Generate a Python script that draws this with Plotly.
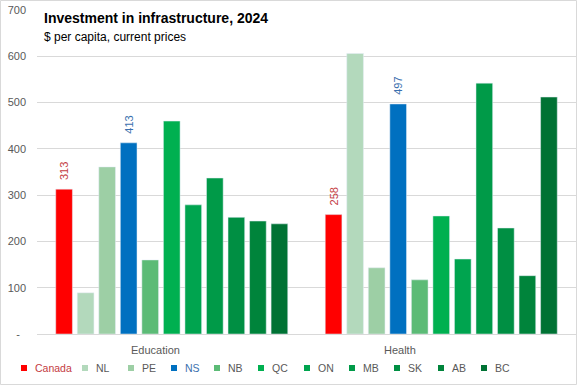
import plotly.graph_objects as go

categories = ["Education", "Health"]
regions = ["Canada", "NL", "PE", "NS", "NB", "QC", "ON", "MB", "SK", "AB", "BC"]
education = [313, 89, 361, 413, 160, 460, 279, 337, 252, 244, 238]
health = [258, 606, 143, 497, 117, 255, 162, 542, 229, 126, 512]
bar_colors = ["#FF0000", "#B3D9BC", "#9DCFA5", "#0070C0", "#5CBB76", "#00B050",
              "#00A44F", "#009A48", "#008F43", "#00843B", "#007234"]
label_colors = {"Canada": "#C43B3F", "NS": "#3B70AE"}
y_tickvals = [0, 100, 200, 300, 400, 500, 600, 700]
y_ticktext = ["-\u00a0\u00a0", "100", "200", "300", "400", "500", "600", "700"]

FONT = "Liberation Sans, Arial, sans-serif"
GREY = "#595959"
W, H = 577, 385
ML, MR, MT, MB = 37, 1, 10, 51
pw = W - ML - MR
ph = H - MT - MB

# layout positions (pixels) for the hand-placed legend entries
legend_marker_px = [24, 85, 131, 174, 217, 261, 307, 352, 397, 441, 484]
legend_y_px = 368


def px_x(px):
    return (px - ML) / pw


def px_y(py):
    return (H - MB - py) / ph


fig = go.Figure()
for i, r in enumerate(regions):
    vals = [education[i], health[i]]
    lab = r in label_colors
    fig.add_trace(go.Bar(
        x=categories, y=vals, name=r, marker_color=bar_colors[i],
        showlegend=False,
        text=["\u00a0\u00a0" + str(v) for v in vals] if lab else None,
        textposition="outside" if lab else "none",
        textangle=-90, constraintext="none",
        textfont=dict(family=FONT, size=11, color=label_colors.get(r, GREY)),
        cliponaxis=False,
        hovertemplate=r + ": %{y}<extra>%{x}</extra>",
    ))

fig.update_layout(
    width=W, height=H,
    margin=dict(l=ML, r=MR, t=MT, b=MB, autoexpand=False),
    paper_bgcolor="white", plot_bgcolor="white",
    barmode="group", bargap=0.121, bargroupgap=0.226,
    font=dict(family=FONT, size=11, color=GREY),
    showlegend=False,
    xaxis=dict(type="category", showticklabels=False, showgrid=False,
               showline=True, linecolor="#D9D9D9", linewidth=1, ticks="",
               fixedrange=True, automargin=False),
    yaxis=dict(range=[0, 700], tickvals=y_tickvals, ticktext=y_ticktext,
               showgrid=True, gridcolor="#D9D9D9", gridwidth=1,
               zeroline=False, showline=False, ticks="",
               tickfont=dict(family=FONT, size=11, color=GREY),
               ticklabelstandoff=10, automargin=False),
)

# category labels below the axis
cat_px = [155, 400]
for c, px in zip(categories, cat_px):
    fig.add_annotation(text=c, xref="paper", yref="paper",
                       x=px_x(px), y=px_y(350), xanchor="center",
                       yanchor="middle", showarrow=False,
                       font=dict(family=FONT, size=11, color=GREY))

# legend (hand placed to mimic the compact Excel legend)
for i, r in enumerate(regions):
    mx = legend_marker_px[i]
    fig.add_shape(type="rect", xref="paper", yref="paper",
                  x0=px_x(mx - 3), x1=px_x(mx + 3),
                  y0=px_y(legend_y_px + 3), y1=px_y(legend_y_px - 3),
                  line=dict(width=0), fillcolor=bar_colors[i])
    fig.add_annotation(text=r, xref="paper", yref="paper",
                       x=px_x(mx + 9), y=px_y(legend_y_px), xanchor="left",
                       yanchor="middle", showarrow=False,
                       font=dict(family=FONT, size=10.5,
                                 color=label_colors.get(r, GREY)))

# title and subtitle
fig.add_annotation(text="<b>Investment in infrastructure, 2024</b>",
                   xref="paper", yref="paper", x=px_x(42), y=px_y(18),
                   xanchor="left", yanchor="middle", showarrow=False,
                   font=dict(family=FONT, size=14, color="#000000"))
fig.add_annotation(text="$ per capita, current prices",
                   xref="paper", yref="paper", x=px_x(42), y=px_y(37),
                   xanchor="left", yanchor="middle", showarrow=False,
                   font=dict(family=FONT, size=12, color="#000000"))

# chart border
fig.add_shape(type="rect", xref="paper", yref="paper",
              x0=px_x(0.5), x1=px_x(W - 0.5),
              y0=px_y(H - 0.5), y1=px_y(0.5),
              line=dict(color="#D9D9D9", width=1), layer="below")

fig.write_html("out.html",
               config={"displayModeBar": False},
               post_script="document.body.style.margin='0';"
                           "document.body.style.overflow='hidden';")
